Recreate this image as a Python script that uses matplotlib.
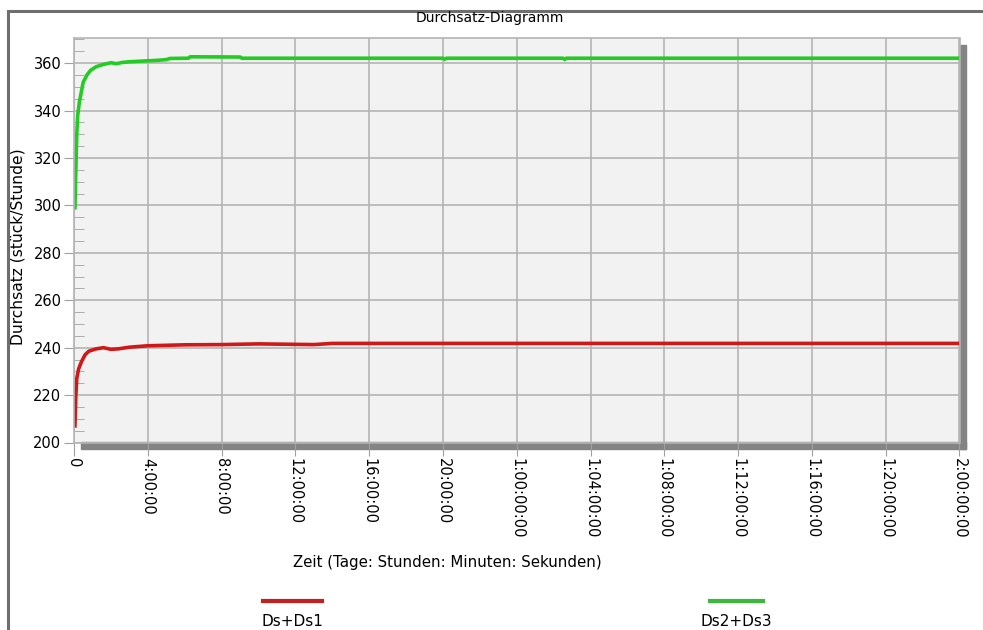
import matplotlib
matplotlib.use("Agg")
import matplotlib.pyplot as plt
from matplotlib.patches import Rectangle
from matplotlib.lines import Line2D
from matplotlib.ticker import MultipleLocator

plt.rcParams['font.family'] = ['DejaVu Sans']

# time in hours, throughput in pieces/hour
t_green = [0.05, 0.1, 0.15, 0.2, 0.3, 0.4, 0.5, 0.7, 0.9, 1.2, 1.6, 2.0, 2.3, 2.6,
           3.0, 3.5, 4.0, 4.5, 5.0, 5.2, 6.2, 6.3, 9.0, 9.1, 20.0, 20.1, 20.2,
           26.5, 26.6, 26.7, 48.0]
v_green = [299, 315, 330, 338, 344, 348, 352, 355, 357, 358.5, 359.5, 360.2, 359.8, 360.3,
           360.6, 360.8, 361.0, 361.2, 361.5, 362.0, 362.1, 362.7, 362.6, 362.1, 362.1, 361.7, 362.1,
           362.1, 361.6, 362.1, 362.1]

t_red = [0.05, 0.1, 0.15, 0.25, 0.4, 0.6, 0.8, 1.2, 1.6, 2.0, 2.4, 3.0, 4.0, 5.0,
         6.0, 8.0, 10.0, 12.0, 13.0, 14.0, 48.0]
v_red = [207, 220, 227, 231, 234, 237, 238.5, 239.5, 240.0, 239.3, 239.5, 240.2, 240.8, 241.0,
         241.2, 241.3, 241.6, 241.4, 241.3, 241.8, 241.8]

x_ticks = [0, 4, 8, 12, 16, 20, 24, 28, 32, 36, 40, 44, 48]
x_labels = ['0', '4:00:00', '8:00:00', '12:00:00', '16:00:00', '20:00:00',
            '1:00:00:00', '1:04:00:00', '1:08:00:00', '1:12:00:00', '1:16:00:00',
            '1:20:00:00', '2:00:00:00']
series_names = ['Ds+Ds1', 'Ds2+Ds3']

W, H = 983, 630
fs = 10.5
fig = plt.figure(figsize=(9.83, 6.30), dpi=100)
fig.patch.set_facecolor('white')

# outer frame
fig.add_artist(Rectangle((8 / W, -0.2), 1.2, 0.2 + 1 - 11 / H, transform=fig.transFigure,
                         fill=False, edgecolor='#6e6e6e', lw=2.2))

ax = fig.add_axes([74 / W, 1 - 442.5 / H, (959.5 - 74) / W, (442.5 - 38.3) / H])
ax.set_facecolor('#f2f2f2')
ax.plot(t_red, v_red, color='#d01818', lw=2.6, solid_joinstyle='miter')
ax.plot(t_green, v_green, color='#22cc22', lw=2.6, solid_joinstyle='miter')

ax.set_xlim(0, 48)
ax.set_ylim(200, 370.5)
ax.set_xticks(x_ticks)
ax.set_xticklabels(x_labels, rotation=270, fontsize=fs, va='top', ha='center')
ax.yaxis.set_major_locator(MultipleLocator(20))
ax.yaxis.set_minor_locator(MultipleLocator(5))
ax.tick_params(axis='y', which='major', direction='out', length=7, color='#a0a0a0',
               labelsize=fs, pad=2)
ax.tick_params(axis='y', which='minor', direction='in', length=7, color='#a0a0a0')
ax.tick_params(axis='x', which='major', direction='out', length=9, color='#a0a0a0', pad=2)
ax.grid(True, which='major', color='#b4b4b4', lw=1.2)
ax.set_axisbelow(True)
for s in ax.spines.values():
    s.set_color('#b4b4b4')
    s.set_linewidth(1.2)

# drop shadow below and right of the plot area
ax.add_patch(Rectangle((7 / 886, -6 / 404), 1 - 7 / 886 + 6.5 / 886, 6 / 404,
                       transform=ax.transAxes, color='#848484', clip_on=False, zorder=0.5))
ax.add_patch(Rectangle((1.0, -6 / 404), 6.5 / 886, 1 - 7 / 404 + 6 / 404,
                       transform=ax.transAxes, color='#848484', clip_on=False, zorder=0.5))

fig.text(490 / W, 1 - 18 / H, 'Durchsatz-Diagramm', ha='center', va='center', fontsize=10)
fig.text(18 / W, 1 - 247 / H, 'Durchsatz (stück/Stunde)', rotation=90,
         ha='center', va='center', fontsize=11.2)
fig.text(447 / W, 1 - 563 / H, 'Zeit (Tage: Stunden: Minuten: Sekunden)',
         ha='center', va='center', fontsize=10.8)

# legend below the chart
for name, col, x0, x1 in [(series_names[0], '#c42020', 263, 322),
                          (series_names[1], '#3cb83c', 710, 763)]:
    fig.add_artist(Line2D([x0 / W, x1 / W], [1 - 601 / H, 1 - 601 / H],
                          transform=fig.transFigure, color=col, lw=3))
    fig.text((x0 + x1) / 2 / W, 1 - 621 / H, name, ha='center', va='center', fontsize=11)

fig.savefig('out.png', dpi=100)
